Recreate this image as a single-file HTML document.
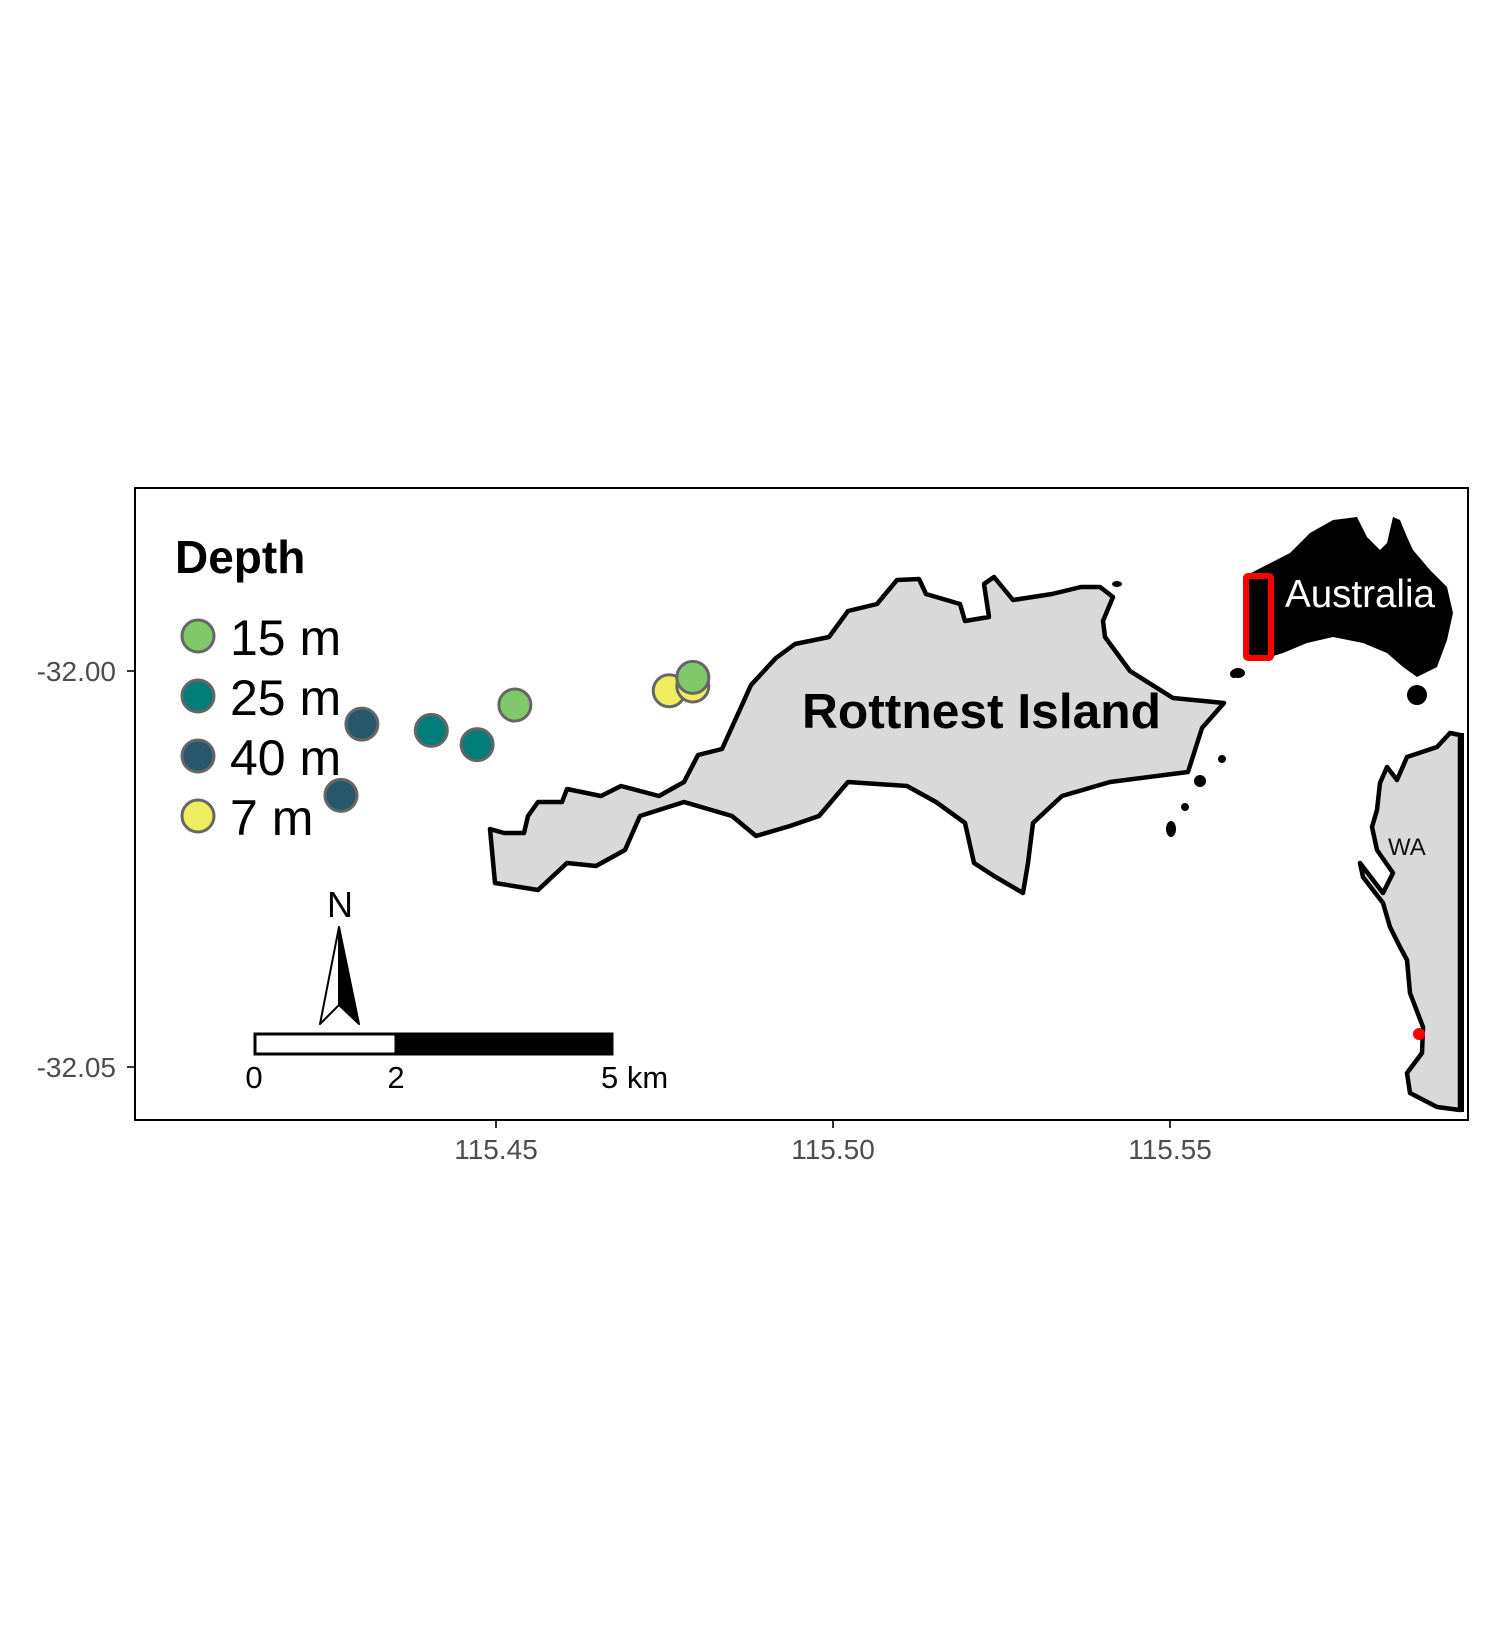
<!DOCTYPE html>
<html><head><meta charset="utf-8"><style>
html,body{margin:0;padding:0;background:#fff;}
svg{display:block;font-family:"Liberation Sans",Arial,sans-serif;}
</style></head><body>
<svg id="map" width="1500" height="1650" viewBox="0 0 1500 1650" xmlns="http://www.w3.org/2000/svg">
<rect x="0" y="0" width="1500" height="1650" fill="#fff"/>
<g id="land">
<path fill="#d9d9d9" stroke="#000" stroke-width="4.5" stroke-linejoin="round" d="M490,829 L495,883 538,890 567,863 596,866 625,850 640,816 684,802 732,816 756,836 790,826 819,816 848,782 907,786 936,802 965,823 974,863 994,876 1023,893 1028,863 1033,823 1062,796 1110,782 1188,772 1202,728 1224,703 1173,698 1130,671 1105,637 1103,621 1113,597 1100,587 1081,587 1052,594 1013,600 994,577 984,584 989,617 965,621 960,604 926,594 919,579 897,580 877,604 848,611 829,637 795,644 776,658 751,685 742,705 722,749 698,755 684,782 659,796 621,786 601,796 567,789 562,802 538,802 528,816 524,833 504,833 Z"/>
<g fill="#000">
<circle cx="1234" cy="674" r="4"/><circle cx="1222" cy="759" r="4"/><circle cx="1200" cy="781" r="6"/><circle cx="1185" cy="807" r="4"/><ellipse cx="1171" cy="829" rx="5" ry="8"/><ellipse cx="1117" cy="584" rx="5" ry="3"/><ellipse cx="1238" cy="673" rx="7" ry="5"/>
</g>
<path fill="#000" d="M1243,577 L1290,553 1310,533 1333,520 1357,517 1367,537 1380,550 1387,543 1393,517 1400,520 1407,537 1413,550 1430,570 1447,587 1453,613 1447,640 1437,667 1417,677 1403,667 1387,653 1363,643 1333,637 1307,643 1283,653 1270,657 1253,657 1243,650 1243,600 Z"/>
<circle cx="1417" cy="695" r="10" fill="#000"/>
<path d="M1253,584 L1260,584 1262,640 1262,652 1255,652 1253,620 Z" fill="#000"/>
<rect x="1246" y="576" width="25" height="82" fill="none" stroke="#ff0000" stroke-width="6" rx="2"/>
<text x="1285" y="607" font-size="39" fill="#fff" textLength="150" lengthAdjust="spacingAndGlyphs">Australia</text>
<path fill="#d9d9d9" stroke="#000" stroke-width="4.5" stroke-linejoin="round" d="M1460,735 L1450,733 1437,747 1407,757 1397,780 1387,767 1380,783 1377,810 1372,827 1377,850 1393,873 1383,893 1360,863 1363,877 1383,903 1390,927 1400,947 1407,960 1410,993 1423,1027 1422,1053 1407,1073 1410,1093 1437,1107 1460,1110 Z"/>
<line x1="1461" y1="733" x2="1461" y2="1112" stroke="#000" stroke-width="6"/>
<text x="1388" y="855" font-size="24" fill="#111">WA</text>
<circle cx="1419" cy="1034" r="6" fill="#ff0000"/>
<text x="802" y="728" font-size="49" font-weight="bold" fill="#000" textLength="359" lengthAdjust="spacingAndGlyphs">Rottnest Island</text>
</g>
<g id="axes"></g>
<g id="points"></g>
<rect x="135" y="488" width="1333" height="632" fill="none" stroke="#000" stroke-width="2"/>
<g>
<text x="175" y="573" font-size="46" font-weight="bold">Depth</text>
<g id="legend-entries"></g>
</g>
<g>
<text x="340" y="917" font-size="36" text-anchor="middle">N</text>
<path d="M339,927 L320,1024 L339,1005 Z" fill="#fff" stroke="#000" stroke-width="2" stroke-linejoin="round"/>
<path d="M339,927 L359,1024 L339,1005 Z" fill="#000" stroke="#000" stroke-width="2" stroke-linejoin="round"/>
</g>
<g>
<rect x="255" y="1034" width="141" height="20" fill="#fff" stroke="#000" stroke-width="3"/>
<rect x="396" y="1034" width="216" height="20" fill="#000" stroke="#000" stroke-width="3"/>
<text x="254" y="1088" font-size="31" text-anchor="middle">0</text>
<text x="396" y="1088" font-size="31" text-anchor="middle">2</text>
<text x="601" y="1088" font-size="31">5 km</text>
</g>
</svg>
<script>
const lons = [115.4301, 115.4270, 115.4404, 115.4472, 115.4528, 115.4757, 115.4792, 115.4792];
const lats = [-32.0067, -32.0157, -32.0075, -32.0093, -32.0043, -32.0025, -32.0019, -32.0008];
const depths = ["40 m", "40 m", "25 m", "25 m", "15 m", "7 m", "7 m", "15 m"];
const depthLevels = ["15 m", "25 m", "40 m", "7 m"];
const depthColors = ["#80c96a", "#007d78", "#26576a", "#eded5d"];
const xTicks = [115.45, 115.50, 115.55];
const xTickLabels = ["115.45", "115.50", "115.55"];
const yTicks = [-32.00, -32.05];
const yTickLabels = ["-32.00", "-32.05"];

const NS = "http://www.w3.org/2000/svg";
function xScale(lon){ return 496 + (lon - 115.45) * 6740; }
function yScale(lat){ return 671 + (-32.00 - lat) * 7920; }
function mk(tag, attrs, parent){ const e=document.createElementNS(NS,tag); for(const k in attrs) e.setAttribute(k,attrs[k]); parent.appendChild(e); return e; }

const axes = document.getElementById('axes');
xTicks.forEach((v,i)=>{
  const x = xScale(v);
  const t = mk('line',{x1:x,y1:1120,x2:x,y2:1128,stroke:'#333','stroke-width':2},axes);
  
  
  const l = mk('text',{x:x,y:1159,'font-size':28,'text-anchor':'middle',fill:'#4d4d4d'},axes);
  l.textContent = xTickLabels[i];
  
  
});
yTicks.forEach((v,i)=>{
  const y = yScale(v);
  const t = mk('line',{x1:127,y1:y,x2:135,y2:y,stroke:'#333','stroke-width':2},axes);
  
  
  const l = mk('text',{x:116,y:y+10,'font-size':28,'text-anchor':'end',fill:'#4d4d4d'},axes);
  l.textContent = yTickLabels[i];
  
  
});

const pts = document.getElementById('points');
lons.forEach((lon,i)=>{
  const c = mk('circle',{cx:xScale(lon),cy:yScale(lats[i]),r:16,fill:depthColors[depthLevels.indexOf(depths[i])],stroke:'#666','stroke-width':3},pts);
  
  
});

const leg = document.getElementById('legend-entries');
depthLevels.forEach((d,i)=>{
  const y = 636 + i*60;
  const c = mk('circle',{cx:198,cy:y,r:16,fill:depthColors[i],stroke:'#666','stroke-width':3},leg);
  
  
  const t = mk('text',{x:230,y:y+19,'font-size':50,fill:'#000'},leg);
  t.textContent = d;
  
  
});
</script>
</body></html>
